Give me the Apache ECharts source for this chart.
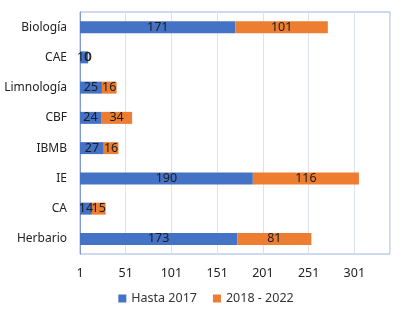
<!DOCTYPE html>
<html>
<head>
<meta charset="utf-8">
<script src="https://cdn.jsdelivr.net/npm/echarts@6/dist/echarts.min.js"></script>
<style>
  html, body { margin: 0; padding: 0; background: #fff; }
  #chart { width: 412px; height: 314px; }
</style>
</head>
<body>
<div id="chart"></div>
<script>
// datos
const categories = ["Biología", "CAE", "Limnología", "CBF", "IBMB", "IE", "CA", "Herbario"];
const hasta2017 = [171, 10, 25, 24, 27, 190, 14, 173];
const desde2018 = [101, 0, 16, 34, 16, 116, 15, 81];
const seriesNames = ["Hasta 2017", "2018 - 2022"];
const xMin = 1;
const xMax = 340;
const xStep = 50;

const font = "Noto Sans";
const chart = echarts.init(document.getElementById("chart"));

const labelStyle = {
  show: true,
  position: "inside",
  color: "#1c1c1c",
  fontFamily: font,
  fontSize: 12.5,
};

chart.setOption({
  animation: false,
  grid: {
    left: 80,
    right: 22,
    top: 12,
    bottom: 60,
    show: true,
    borderColor: "#9DB4DE",
    borderWidth: 1,
  },
  legend: {
    bottom: 4,
    left: "center",
    itemWidth: 8,
    itemHeight: 8,
    itemGap: 16,
    icon: "rect",
    textStyle: { fontFamily: font, fontSize: 12.5, color: "#333" },
    data: seriesNames,
  },
  xAxis: {
    type: "value",
    min: xMin,
    max: xMax,
    interval: xStep,
    axisLine: { show: false },
    axisTick: { show: false },
    splitLine: { lineStyle: { color: "#DDE3EC" } },
    axisLabel: {
      color: "#222",
      fontFamily: font,
      fontSize: 12.5,
      margin: 13,
      formatter: (v) => ((v - xMin) % xStep === 0 ? String(v) : ""),
    },
  },
  yAxis: {
    type: "category",
    inverse: true,
    data: categories,
    axisLine: { lineStyle: { color: "#7E9BD3" } },
    axisTick: { length: 4, lineStyle: { color: "#7E9BD3" } },
    axisLabel: { color: "#222", fontFamily: font, fontSize: 12, margin: 13 },
  },
  series: [
    {
      name: seriesNames[0],
      type: "bar",
      stack: "total",
      barWidth: 12,
      itemStyle: { color: "#4472C4" },
      label: labelStyle,
      data: hasta2017,
    },
    {
      name: seriesNames[1],
      type: "bar",
      stack: "total",
      barWidth: 12,
      itemStyle: { color: "#ED7D31" },
      label: labelStyle,
      data: desde2018,
    },
  ],
});
</script>
</body>
</html>
